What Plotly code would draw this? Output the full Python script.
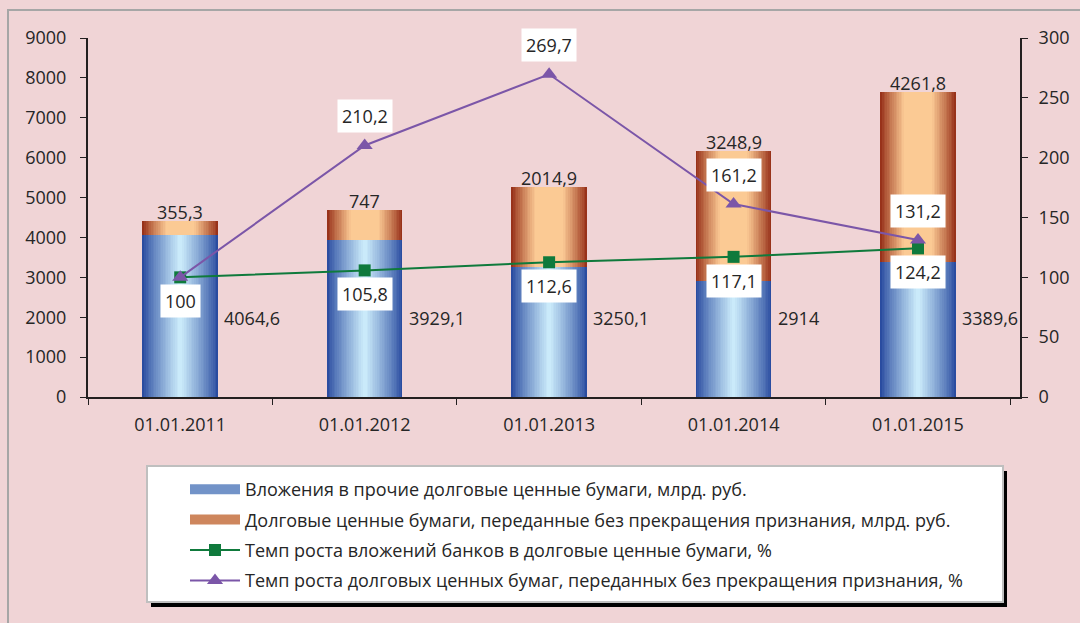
import plotly.graph_objects as go

# Data
dates = ["01.01.2011", "01.01.2012", "01.01.2013", "01.01.2014", "01.01.2015"]
other_debt = [4064.6, 3929.1, 3250.1, 2914, 3389.6]          # blue bars, bn rub
transferred = [355.3, 747, 2014.9, 3248.9, 4261.8]           # copper bars, bn rub
growth_banks = [100, 105.8, 112.6, 117.1, 124.2]             # green line, %
growth_transferred = [100, 210.2, 269.7, 161.2, 131.2]       # purple line, %

names = [
    "Вложения в прочие долговые ценные бумаги, млрд. руб.",
    "Долговые ценные бумаги, переданные без прекращения признания, млрд. руб.",
    "Темп роста вложений банков в долговые ценные бумаги, %",
    "Темп роста долговых ценных бумаг, переданных без прекращения признания, %",
]

W, H = 1080, 623
L, R, T, B = 88, 60, 38, 226
FONT = "Open Sans"
FS = 18
TXT = "#262626"


def mix(c1, c2, t):
    return "rgb(%d,%d,%d)" % tuple(round(a + (b - a) * t) for a, b in zip(c1, c2))


def fmt(v):
    s = ("%.1f" % v).rstrip("0").rstrip(".")
    return s.replace(".", ",")


fig = go.Figure()

# fake horizontal gradient: overlay narrower, lighter bars
bar_w = 0.41
steps = 22
blue_edge, blue_mid = (42, 76, 160), (202, 234, 250)
red_edge, red_mid = (152, 50, 26), (251, 202, 148)
for k in range(steps):
    t = k / (steps - 1)
    w = bar_w * (1 - 0.95 * t)
    fig.add_trace(go.Bar(
        x=dates, y=other_debt, width=w,
        marker=dict(color=mix(blue_edge, blue_mid, t ** 0.85), line_width=0),
        showlegend=False, hoverinfo="skip",
    ))
    fig.add_trace(go.Bar(
        x=dates, y=transferred, base=other_debt, width=w,
        marker=dict(color=mix(red_edge, red_mid, min(1, t / 0.65) ** 0.9), line_width=0),
        showlegend=False, hoverinfo="skip",
    ))

# legend-only entries for the gradient bars
fig.add_trace(go.Scatter(x=[None], y=[None], mode="lines", name=names[0],
                         line=dict(color=mix(blue_edge, blue_mid, 0.45), width=11),
                         legendgroup="g0", legendrank=1))
fig.add_trace(go.Scatter(x=[None], y=[None], mode="lines", name=names[1],
                         line=dict(color=mix(red_edge, red_mid, 0.55), width=11),
                         legendgroup="g1", legendrank=2))

fig.add_trace(go.Scatter(
    x=dates, y=growth_banks, yaxis="y2", mode="lines+markers",
    line=dict(color="#0F7A3C", width=2),
    marker=dict(symbol="square", size=12, color="#0F7A3C"),
    name=names[2], legendgroup="g2", legendrank=3,
))
fig.add_trace(go.Scatter(
    x=dates, y=growth_transferred, yaxis="y2", mode="lines+markers",
    line=dict(color="#7B56A8", width=2),
    marker=dict(symbol="triangle-up", size=14, color="#7B56A8"),
    name=names[3], legendgroup="g3", legendrank=4,
))

ann = []
for d, b, r in zip(dates, other_debt, transferred):
    ann.append(dict(x=d, y=b + r, text=fmt(r), showarrow=False, yanchor="bottom",
                    yshift=-5, font=dict(size=FS, color=TXT)))
    ann.append(dict(x=d, y=1975, text=fmt(b), showarrow=False, xanchor="left",
                    xshift=42, font=dict(size=FS, color=TXT)))
for d, g in zip(dates, growth_banks):
    ann.append(dict(x=d, y=g, yref="y2", text=fmt(g), showarrow=False, yanchor="top",
                    yshift=-7, bgcolor="white", borderpad=4, font=dict(size=FS, color=TXT)))
for i, (d, p) in enumerate(zip(dates, growth_transferred)):
    if i == 0:
        continue
    ann.append(dict(x=d, y=p, yref="y2", text=fmt(p), showarrow=False, yanchor="bottom",
                    yshift=12, bgcolor="white", borderpad=4, font=dict(size=FS, color=TXT)))


# screen pixel -> paper coordinate
def px(x):
    return (x - L) / (W - L - R)


def py(y):
    return (H - B - y) / (H - B - T)


shapes = [
    # outer frame
    dict(type="rect", xref="paper", yref="paper", x0=px(8), x1=px(1200), y0=py(700), y1=py(10),
         line=dict(color="#A6A6A6", width=2), layer="below"),
    # legend shadow and box
    dict(type="rect", xref="paper", yref="paper", x0=px(151), x1=px(1007), y0=py(607), y1=py(471),
         fillcolor="black", line_width=0, layer="below"),
    dict(type="rect", xref="paper", yref="paper", x0=px(147), x1=px(1003), y0=py(602), y1=py(466),
         fillcolor="white", line=dict(color="#BFBFBF", width=2), layer="below"),
]

axis_common = dict(showgrid=False, zeroline=False, showline=True, linecolor="#231F20",
                   linewidth=2, ticks="outside", ticklen=6, tickcolor="#231F20",
                   tickfont=dict(family=FONT, size=FS, color=TXT))

fig.update_layout(
    width=W, height=H,
    margin=dict(l=L, r=R, t=T, b=B, autoexpand=False),
    paper_bgcolor="#F0D4D6", plot_bgcolor="#F0D4D6",
    barmode="overlay", bargap=0,
    font=dict(family=FONT, size=FS, color=TXT),
    xaxis=dict(**axis_common, tickson="boundaries", ticklabelstandoff=10),
    yaxis=dict(**axis_common, range=[0, 9000], dtick=1000, ticklabelstandoff=10),
    yaxis2=dict(**axis_common, range=[0, 300], dtick=50, overlaying="y", side="right",
                ticklabelstandoff=7),
    legend=dict(x=px(185), y=py(471), xanchor="left", yanchor="top",
                bgcolor="rgba(0,0,0,0)", traceorder="grouped", tracegroupgap=4,
                itemwidth=50, font=dict(family=FONT, size=FS, color=TXT)),
    annotations=ann,
    shapes=shapes,
)

# drop the default page margin so the figure fills the window exactly
fig.write_html("out.html", config={"displayModeBar": False},
               post_script="document.body.style.margin='0';"
                           "document.body.style.overflow='hidden';")
